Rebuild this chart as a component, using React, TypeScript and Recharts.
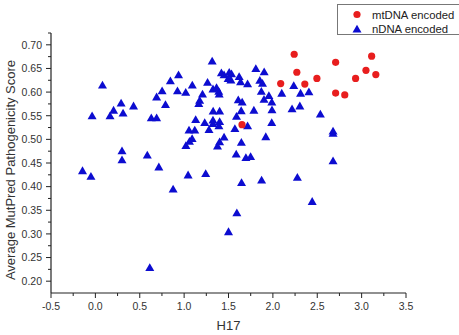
import { Label, Scatter, ScatterChart, XAxis, YAxis } from 'recharts';

// nDNA encoded (blue triangles)
const nDnaH17 = [
  -0.145, -0.05, -0.037, 0.08, 0.165, 0.205, 0.29, 0.312, 0.3, 0.3, 0.43, 0.585, 0.613,
  0.63, 0.69, 0.69, 0.715, 0.752, 0.79, 0.845, 0.876, 0.937, 0.925, 1.018, 1.045, 1.092,
  1.13, 1.055, 1.12, 1.02, 1.06, 1.09, 1.207, 1.175, 1.165, 1.243, 1.264, 1.316, 1.232,
  1.28, 1.325, 1.365, 1.39, 1.395, 1.42, 1.45, 1.327, 1.4, 1.325, 1.4, 1.325, 1.392, 1.45,
  1.4, 1.376, 1.5, 1.508, 1.534, 1.496, 1.527, 1.62, 1.636, 1.715, 1.808, 1.902, 1.853,
  1.883, 1.87, 1.955, 1.9, 1.988, 1.61, 1.654, 1.643, 1.786, 1.99, 1.59, 1.572, 1.715,
  1.987, 1.92, 1.645, 1.587, 1.696, 1.749, 1.647, 1.873, 1.594, 2.1, 2.235, 2.312, 2.406,
  2.216, 2.304, 2.535, 2.678, 2.678, 2.678, 2.276, 2.443,
];
const nDnaScore = [
  0.434, 0.422, 0.55, 0.615, 0.55, 0.562, 0.577, 0.556, 0.476, 0.457, 0.571, 0.467, 0.229,
  0.546, 0.546, 0.59, 0.442, 0.603, 0.574, 0.624, 0.395, 0.637, 0.603, 0.6, 0.425, 0.615,
  0.542, 0.52, 0.52, 0.487, 0.496, 0.502, 0.596, 0.583, 0.576, 0.428, 0.621, 0.666, 0.536,
  0.521, 0.607, 0.61, 0.602, 0.596, 0.641, 0.637, 0.56, 0.56, 0.541, 0.538, 0.534, 0.529, 0.505,
  0.495, 0.486, 0.305, 0.642, 0.639, 0.629, 0.626, 0.633, 0.622, 0.618, 0.65, 0.643, 0.625,
  0.619, 0.602, 0.593, 0.585, 0.579, 0.584, 0.579, 0.561, 0.562, 0.563, 0.549, 0.523, 0.529,
  0.536, 0.506, 0.494, 0.469, 0.462, 0.464, 0.409, 0.414, 0.345, 0.598, 0.614, 0.598, 0.601,
  0.565, 0.571, 0.554, 0.518, 0.513, 0.455, 0.42, 0.369,
];

// mtDNA encoded (red circles)
const mtDnaH17 = [2.24, 2.707, 3.113, 2.27, 3.049, 3.16, 2.088, 2.36, 2.496, 2.932, 2.707, 2.81, 1.652];
const mtDnaScore = [0.68, 0.663, 0.676, 0.642, 0.646, 0.637, 0.618, 0.617, 0.629, 0.629, 0.598, 0.594, 0.531];

const xTicks = [-0.5, -0.25, 0, 0.25, 0.5, 0.75, 1, 1.25, 1.5, 1.75, 2, 2.25, 2.5, 2.75, 3, 3.25, 3.5];
const yTicks = [
  0.2, 0.225, 0.25, 0.275, 0.3, 0.325, 0.35, 0.375, 0.4, 0.425, 0.45, 0.475, 0.5, 0.525,
  0.55, 0.575, 0.6, 0.625, 0.65, 0.675, 0.7, 0.725,
];

const nDna = nDnaH17.map((h, i) => ({ h17: h, score: nDnaScore[i] }));
const mtDna = mtDnaH17.map((h, i) => ({ h17: h, score: mtDnaScore[i] }));

const FONT = '"Liberation Sans", Arial, sans-serif';
const AXIS = '#222222';
const BLUE = '#0c0cd0';
const RED = '#e81e1e';

const isMajor = (v: number, step: number) => Math.abs(v / step - Math.round(v / step)) < 1e-6;

const XTick = ({ x, y, payload }: any) => {
  const major = isMajor(payload.value, 0.5);
  return (
    <g>
      <line x1={x} x2={x} y1={y} y2={y + (major ? 5 : 3)} stroke={AXIS} />
      {major && (
        <text x={x} y={y + 17} textAnchor='middle' fontSize={10.5} fontFamily={FONT} fill='#333'>
          {payload.value.toFixed(1)}
        </text>
      )}
    </g>
  );
};

const YTick = ({ x, y, payload }: any) => {
  const major = isMajor(payload.value, 0.05);
  return (
    <g>
      <line x1={x} x2={x - (major ? 5 : 3)} y1={y} y2={y} stroke={AXIS} />
      {major && (
        <text x={x - 9} y={y + 3.8} textAnchor='end' fontSize={10.5} fontFamily={FONT} fill='#333'>
          {payload.value.toFixed(2)}
        </text>
      )}
    </g>
  );
};

const Triangle = ({ cx, cy }: any) => (
  <path d={`M${cx},${cy - 4.2} L${cx - 4.5},${cy + 3.6} L${cx + 4.5},${cy + 3.6} Z`} fill={BLUE} />
);

const Dot = ({ cx, cy }: any) => <circle cx={cx} cy={cy} r={3.6} fill={RED} />;

const YTitle = ({ viewBox }: any) => (
  <text
    transform={`translate(${viewBox.x + 15}, ${viewBox.y + viewBox.height / 2 + 7}) rotate(-90)`}
    textAnchor='middle'
    fontSize={13}
    fontFamily={FONT}
    fill='#333'
  >
    Average MutPred Pathogenicity Score
  </text>
);

export default function App() {
  return (
    <div style={{ position: 'absolute', left: 0, top: 0, width: 459, height: 335, background: '#fff', overflow: 'hidden' }}>
      <ScatterChart width={459} height={335} margin={{ top: 33, right: 53, bottom: 0, left: 0 }}>
        <XAxis
          dataKey='h17'
          type='number'
          domain={[-0.5, 3.5]}
          ticks={xTicks}
          interval={0}
          tick={<XTick />}
          tickLine={false}
          tickSize={0}
          tickMargin={0}
          height={42}
          axisLine={{ stroke: AXIS, strokeWidth: 1.2 }}
          allowDataOverflow
        >
          <Label value='H17' position='insideBottom' offset={5} fontSize={13} fontFamily={FONT} fill='#333' />
        </XAxis>
        <YAxis
          dataKey='score'
          type='number'
          domain={[0.175, 0.725]}
          ticks={yTicks}
          interval={0}
          tick={<YTick />}
          tickLine={false}
          tickSize={0}
          tickMargin={0}
          width={51}
          axisLine={{ stroke: AXIS, strokeWidth: 1.2 }}
          allowDataOverflow
        >
          <Label content={<YTitle />} />
        </YAxis>
        <Scatter name='nDNA encoded' data={nDna} shape={<Triangle />} isAnimationActive={false} />
        <Scatter name='mtDNA encoded' data={mtDna} shape={<Dot />} isAnimationActive={false} />
      </ScatterChart>
      <div
        style={{
          position: 'absolute',
          left: 337,
          top: 4,
          width: 130,
          height: 29,
          border: '1px solid #777',
          fontFamily: FONT,
          fontSize: 11.3,
          color: '#222',
        }}
      >
        <svg width={30} height={29} style={{ position: 'absolute', left: 0, top: 0 }}>
          <circle cx={19} cy={9.5} r={3.6} fill={RED} />
          <path d='M19,19.8 L14.5,27.6 L23.5,27.6 Z' fill={BLUE} />
        </svg>
        <div style={{ position: 'absolute', left: 34, top: 2.5, lineHeight: '14px' }}>mtDNA encoded</div>
        <div style={{ position: 'absolute', left: 34, top: 17, lineHeight: '14px' }}>nDNA encoded</div>
      </div>
    </div>
  );
}
